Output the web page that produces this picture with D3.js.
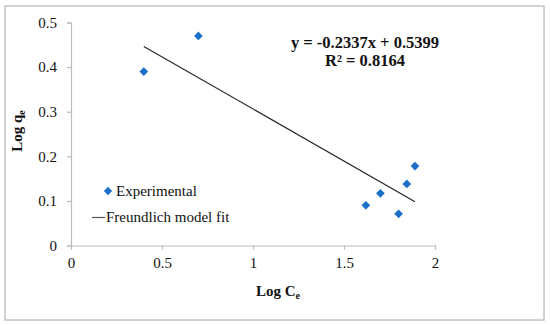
<!DOCTYPE html>
<html>
<head>
<meta charset="utf-8">
<script src="https://cdn.jsdelivr.net/npm/d3@7"></script>
<style>
  body { margin: 0; background: #fff; }
</style>
</head>
<body>
<svg id="chart" width="550" height="325"></svg>
<script>
// Log Ce / Log qe experimental points
const logCe = [0.40, 0.70, 1.62, 1.70, 1.80, 1.845, 1.89];
const logQe = [0.39, 0.47, 0.09, 0.117, 0.071, 0.138, 0.178];
// Freundlich fit
const slope = -0.2337;
const intercept = 0.5399;
const fitRange = [0.40, 1.89];
const xTicks = [0, 0.5, 1, 1.5, 2];
const yTicks = [0, 0.1, 0.2, 0.3, 0.4, 0.5];

const FONT = 'Liberation Serif';
const svg = d3.select('#chart');

// outer frame
svg.append('rect')
  .attr('x', 5).attr('y', 6)
  .attr('width', 539).attr('height', 314)
  .attr('fill', 'none')
  .attr('stroke', '#c4c4c4')
  .attr('stroke-width', 1.5);

const x = d3.scaleLinear().domain([0, 2]).range([71, 435]);
const y = d3.scaleLinear().domain([0, 0.5]).range([245.5, 22.5]);

const xAxis = d3.axisBottom(x).tickValues(xTicks).tickSizeOuter(0).tickSize(4).tickPadding(5)
  .tickFormat(d3.format(''));
const yAxis = d3.axisLeft(y).tickValues(yTicks).tickSizeOuter(0).tickSize(4).tickPadding(10)
  .tickFormat(d => d === 0 ? '0' : d3.format('.1f')(d));

const gx = svg.append('g')
  .attr('transform', 'translate(0,245.5)')
  .call(xAxis);
const gy = svg.append('g')
  .attr('transform', 'translate(71,0)')
  .call(yAxis);

[gx, gy].forEach(g => {
  g.attr('font-family', FONT).attr('font-size', 15);
  g.select('.domain').attr('stroke', '#bdbdbd').attr('stroke-width', 1.2);
  g.selectAll('.tick line').attr('stroke', '#bdbdbd').attr('stroke-width', 1.2);
  g.selectAll('.tick text').attr('fill', '#111');
});
gx.selectAll('.tick text').attr('dy', '0.9em');

// axis titles
const xt = svg.append('text')
  .attr('x', 278).attr('y', 296)
  .attr('text-anchor', 'middle')
  .attr('font-family', FONT)
  .attr('font-weight', 'bold')
  .attr('font-size', 15)
  .attr('fill', '#111');
xt.append('tspan').text('Log C');
xt.append('tspan').attr('font-size', 10).attr('dy', 3).text('e');

const yt = svg.append('text')
  .attr('transform', 'translate(22,131) rotate(-90)')
  .attr('text-anchor', 'middle')
  .attr('font-family', FONT)
  .attr('font-weight', 'bold')
  .attr('font-size', 15)
  .attr('fill', '#111');
yt.append('tspan').text('Log q');
yt.append('tspan').attr('font-size', 10).attr('dy', 3).text('e');

// trend line
svg.append('line')
  .attr('x1', x(fitRange[0])).attr('y1', y(slope * fitRange[0] + intercept))
  .attr('x2', x(fitRange[1])).attr('y2', y(slope * fitRange[1] + intercept))
  .attr('stroke', '#262626')
  .attr('stroke-width', 1.2);

// points
const diamond = d3.symbol().type(d3.symbolDiamond2).size(48);
svg.selectAll('.pt')
  .data(logCe.map((c, i) => [c, logQe[i]]))
  .enter().append('path')
  .attr('class', 'pt')
  .attr('d', diamond)
  .attr('transform', d => `translate(${x(d[0])},${y(d[1])})`)
  .attr('fill', '#1b6fc8');

// equation
svg.append('text')
  .attr('x', 365).attr('y', 47.5)
  .attr('text-anchor', 'middle')
  .attr('font-family', FONT)
  .attr('font-weight', 'bold')
  .attr('font-size', 16.5)
  .attr('fill', '#111')
  .text('y = -0.2337x + 0.5399');
svg.append('text')
  .attr('x', 365).attr('y', 65.5)
  .attr('text-anchor', 'middle')
  .attr('font-family', FONT)
  .attr('font-weight', 'bold')
  .attr('font-size', 16.5)
  .attr('fill', '#111')
  .text('R² = 0.8164');

// legend
svg.append('path')
  .attr('d', d3.symbol().type(d3.symbolDiamond2).size(44))
  .attr('transform', 'translate(108,191)')
  .attr('fill', '#1b6fc8');
svg.append('text')
  .attr('x', 116).attr('y', 196)
  .attr('font-family', FONT)
  .attr('font-size', 15)
  .attr('fill', '#111')
  .text('Experimental');
svg.append('line')
  .attr('x1', 92).attr('x2', 105)
  .attr('y1', 217.5).attr('y2', 217.5)
  .attr('stroke', '#555')
  .attr('stroke-width', 1.2);
svg.append('text')
  .attr('x', 106).attr('y', 222)
  .attr('font-family', FONT)
  .attr('font-size', 15)
  .attr('fill', '#111')
  .text('Freundlich model fit');
</script>
</body>
</html>
